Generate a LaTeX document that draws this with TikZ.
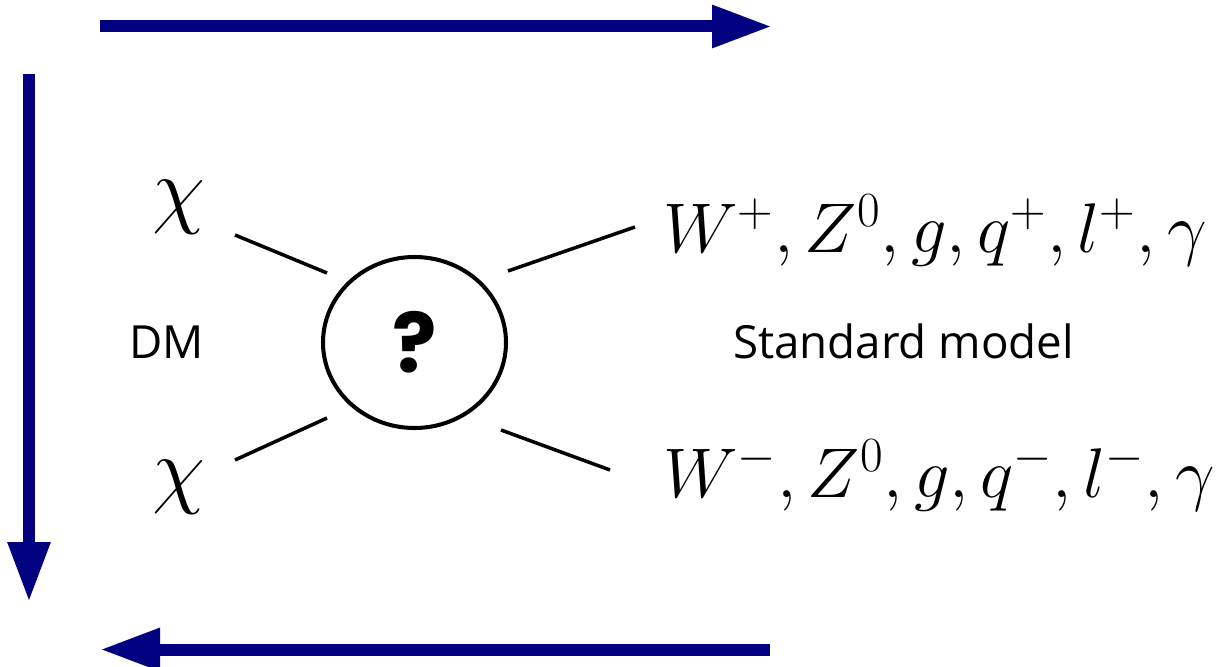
\RequirePackage{fix-cm}
\documentclass[tikz,border=0pt]{standalone}
\usepackage{fontspec}
\usepackage{tikz}
\usetikzlibrary{arrows.meta, shapes.geometric}
\newfontfamily\labelfont{Open Sans}
\newfontfamily\qmarkfont{Poppins}
\definecolor{flowblue}{HTML}{000080}
\definecolor{legblack}{HTML}{000000}

\begin{document}
\begin{tikzpicture}[
  flow/.style     = {-{Triangle[length=1.2cm, width=0.8cm]}, line width=0.24cm, color=flowblue},
  leg/.style      = {line width=2pt, color=legblack},
  blob/.style     = {draw=legblack, ellipse, line width=2.3pt, inner sep=0pt, minimum width=3.66cm, minimum height=3.42cm, font=\qmarkfont\bfseries\fontsize{47}{50}\selectfont},
  dmpart/.style   = {anchor=base, font=\fontsize{49}{54}\selectfont},
  smpart/.style   = {anchor=base west, inner sep=0pt, font=\fontsize{40}{44}\selectfont},
  lbl/.style      = {anchor=base, font=\labelfont\fontsize{26}{30}\selectfont},
]
\useasboundingbox (0, 0) rectangle (24.42, -13.34);
\coordinate (topL) at (2.0, -0.53);
\coordinate (topR) at (15.44, -0.53);
\coordinate (sideT) at (0.58, -1.48);
\coordinate (sideB) at (0.58, -12.04);
\coordinate (botR) at (15.4, -12.99);
\coordinate (botL) at (2.0, -12.99);
\draw[flow] (topL) -- (topR);
\draw[flow] (sideT) -- (sideB);
\draw[flow] (botR) -- (botL);
\node[blob] (vertex) at (8.29, -6.85) {?};
\node[dmpart] (chiA) at (3.57, -4.34) {$\chi$};
\node[dmpart] (chiB) at (3.57, -9.94) {$\chi$};
\node[lbl] (dm) at (3.33, -7.16) {DM};
\node[lbl] (sm) at (18.07, -7.16) {Standard model};
\node[smpart] (smA) at (13.26, -5.04) {$W^+, Z^0, g, q^+, l^+, \gamma$};
\node[smpart] (smB) at (13.26, -9.94) {$W^-, Z^0, g, q^-, l^-, \gamma$};
\coordinate (ulA) at (4.7, -4.7);
\coordinate (ulB) at (6.54, -5.46);
\coordinate (llA) at (4.7, -9.2);
\coordinate (llB) at (6.54, -8.36);
\coordinate (urA) at (10.16, -5.42);
\coordinate (urB) at (12.7, -4.54);
\coordinate (lrA) at (10.02, -8.6);
\coordinate (lrB) at (12.2, -9.4);
\draw[leg] (ulA) -- (ulB);
\draw[leg] (llA) -- (llB);
\draw[leg] (urA) -- (urB);
\draw[leg] (lrA) -- (lrB);
\end{tikzpicture}
\end{document}
